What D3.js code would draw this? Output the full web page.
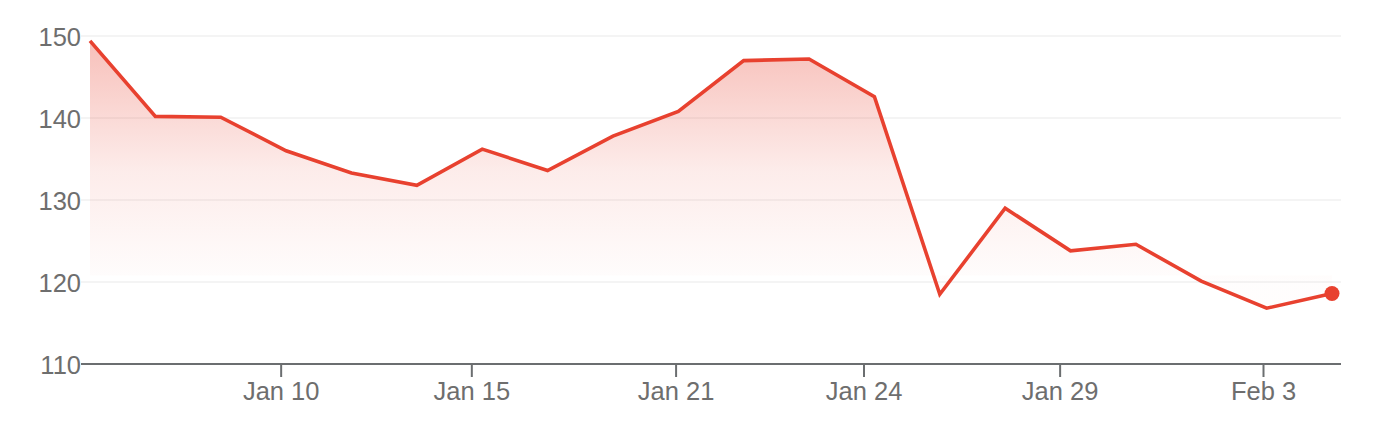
<!DOCTYPE html>
<html>
<head>
<meta charset="utf-8">
<script src="https://cdn.jsdelivr.net/npm/d3@7"></script>
<style>
  html, body { margin: 0; padding: 0; background: #fff; }
  .tickLabel { font-family: "Liberation Sans", Arial, Helvetica, sans-serif; font-size: 25.5px; fill: #6e6e6e; }
</style>
</head>
<body>
<div id="chart"></div>
<script>
// Trading days (Jan 6 – Feb 4) and closing values
const dates = ["2025-01-06","2025-01-07","2025-01-08","2025-01-10","2025-01-13",
               "2025-01-14","2025-01-15","2025-01-16","2025-01-17","2025-01-21",
               "2025-01-22","2025-01-23","2025-01-24","2025-01-27","2025-01-28",
               "2025-01-29","2025-01-30","2025-01-31","2025-02-03","2025-02-04"];
const values = [149.4, 140.2, 140.1, 136.0, 133.3, 131.8, 136.2, 133.6, 137.8, 140.8,
                147.0, 147.2, 142.6, 118.5, 129.0, 123.8, 124.6, 120.1, 116.8, 118.6];
const xTickDates  = ["2025-01-10","2025-01-15","2025-01-21","2025-01-24","2025-01-29","2025-02-03"];
const xTickLabels = ["Jan 10","Jan 15","Jan 21","Jan 24","Jan 29","Feb 3"];
const yTicks = [110, 120, 130, 140, 150];

function drawChart() {
  const width = 1380, height = 434;
  const margin = { top: 36, right: 39, bottom: 70, left: 81 };
  const plot_width  = width  - margin.left - margin.right;
  const plot_height = height - margin.top  - margin.bottom;
  const pad = 9;
  const lineColor = "#e8412f";
  const axisColor = "#6b6e70";

  // points sit at 04:00 of each trading day, ticks at midnight
  const parse = d3.utcParse("%Y-%m-%d");
  const pointTime = s => d3.utcHour.offset(parse(s), 4);
  const data = dates.map((d, i) => ({ date: pointTime(d), value: values[i] }));

  const svg = d3.select("#chart").append("svg")
    .attr("width", width).attr("height", height);
  const plot = svg.append("g")
    .attr("transform", `translate(${margin.left}, ${margin.top})`);

  // evenly spaced trading days, piecewise time scale between them
  const xIndex = d3.scalePoint()
    .domain(d3.range(data.length))
    .range([pad, plot_width - pad]);
  const x = d3.scaleUtc()
    .domain(data.map(d => d.date))
    .range(data.map((d, i) => xIndex(i)));

  const y = d3.scaleLinear().domain([110, 150]).range([plot_height, 0]);

  // ── Gridlines ─────────────────────────────────────────────────────────────
  plot.append("g")
    .selectAll("line")
    .data(yTicks.filter(t => t !== 110))
    .join("line")
    .attr("x1", 0).attr("x2", plot_width)
    .attr("y1", d => y(d)).attr("y2", d => y(d))
    .attr("stroke", "#f1f1f1")
    .attr("stroke-width", 1.5);

  // ── Area with gradient ────────────────────────────────────────────────────
  const defs = svg.append("defs");
  const grad = defs.append("linearGradient")
    .attr("id", "areaGrad")
    .attr("gradientUnits", "userSpaceOnUse")
    .attr("x1", 0).attr("x2", 0)
    .attr("y1", y(150)).attr("y2", y(120));
  grad.append("stop").attr("offset", "0%").attr("stop-color", lineColor).attr("stop-opacity", 0.34);
  grad.append("stop").attr("offset", "55%").attr("stop-color", lineColor).attr("stop-opacity", 0.1);
  grad.append("stop").attr("offset", "100%").attr("stop-color", lineColor).attr("stop-opacity", 0.01);

  const area = d3.area()
    .x(d => x(d.date))
    .y0(y(120.8))
    .y1(d => y(d.value));

  plot.append("path")
    .datum(data)
    .attr("d", area)
    .attr("fill", "url(#areaGrad)");

  // ── Line + end dot ────────────────────────────────────────────────────────
  const line = d3.line().x(d => x(d.date)).y(d => y(d.value));
  plot.append("path")
    .datum(data)
    .attr("d", line)
    .attr("fill", "none")
    .attr("stroke", lineColor)
    .attr("stroke-width", 3.6)
    .attr("stroke-linejoin", "miter");

  const last = data[data.length - 1];
  plot.append("circle")
    .attr("cx", x(last.date)).attr("cy", y(last.value))
    .attr("r", 7.5)
    .attr("fill", lineColor);

  // ── Axes ──────────────────────────────────────────────────────────────────
  const xAxis = d3.axisBottom(x)
    .tickValues(xTickDates.map(parse))
    .tickFormat((d, i) => xTickLabels[i])
    .tickSize(13)
    .tickSizeOuter(0)
    .tickPadding(5);

  const gx = plot.append("g")
    .attr("transform", `translate(0, ${plot_height})`)
    .call(xAxis);
  // baseline spans the whole plot, not just the data extent
  gx.select(".domain").remove();
  gx.append("line")
    .attr("x1", 0).attr("x2", plot_width)
    .attr("stroke", axisColor).attr("stroke-width", 2);
  gx.selectAll(".tick line").attr("stroke", axisColor).attr("stroke-width", 2);
  gx.selectAll("text").attr("class", "tickLabel").attr("fill", null);

  const yAxis = d3.axisLeft(y).tickValues(yTicks).tickSize(0).tickPadding(0);
  const gy = plot.append("g").call(yAxis);
  gy.select(".domain").remove();
  gy.selectAll("text").attr("class", "tickLabel").attr("fill", null).attr("dy", "0.36em");
}

drawChart();
</script>
</body>
</html>
